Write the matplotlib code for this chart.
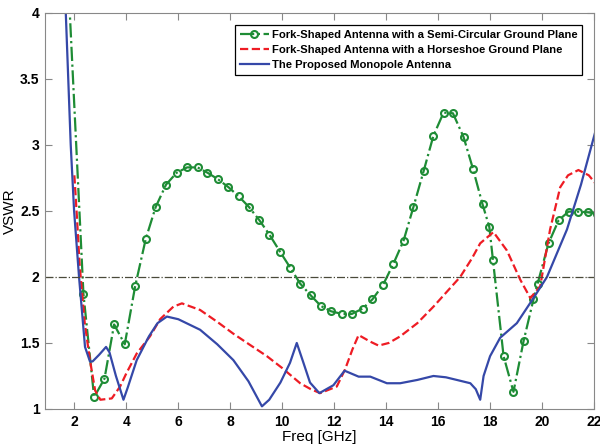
import matplotlib
matplotlib.use('Agg')
import matplotlib.pyplot as plt

# VSWR data (freq in GHz)
freq_semi = [1.80, 2.35, 2.76, 3.16, 3.53, 3.94, 4.34, 4.75, 5.13, 5.53, 5.94, 6.34, 6.74, 7.12,
             7.53, 7.93, 8.33, 8.72, 9.12, 9.51, 9.92, 10.31, 10.69, 11.10, 11.49, 11.88, 12.30,
             12.68, 13.09, 13.47, 13.88, 14.28, 14.67, 15.05, 15.44, 15.82, 16.21, 16.57, 16.98,
             17.34, 17.71, 17.97, 18.11, 18.52, 18.90, 19.29, 19.67, 19.83, 20.25, 20.64, 21.02,
             21.37, 21.75, 22.10]
vswr_semi = [4.10, 1.87, 1.09, 1.23, 1.64, 1.49, 1.93, 2.29, 2.53, 2.70, 2.79, 2.83, 2.83, 2.79,
             2.74, 2.68, 2.61, 2.53, 2.43, 2.32, 2.19, 2.07, 1.95, 1.86, 1.78, 1.74, 1.72,
             1.72, 1.76, 1.83, 1.94, 2.10, 2.275, 2.53, 2.80, 3.07, 3.245, 3.24, 3.06,
             2.82, 2.55, 2.38, 2.13, 1.40, 1.13, 1.515, 1.83, 1.95, 2.255, 2.43, 2.495,
             2.495, 2.49, 2.48]

freq_horse = [2.00, 2.10, 2.20, 2.40, 2.60, 2.80, 3.00, 3.44, 3.76, 4.00, 4.40, 4.91, 5.30, 5.81,
              6.14, 6.84, 7.50, 8.12, 8.80, 9.41, 10.00, 10.69, 11.10, 11.46, 12.10, 12.42, 12.70,
              12.94, 13.39, 13.71, 14.10, 14.54, 15.20, 15.82, 16.30, 16.85, 17.30, 17.62, 18.13,
              18.65, 19.16, 19.55, 19.93, 20.31, 20.70, 21.00, 21.40, 21.80, 22.05]
vswr_horse = [2.77, 2.45, 2.10, 1.65, 1.37, 1.14, 1.07, 1.08, 1.17, 1.27, 1.42, 1.55, 1.68, 1.775,
              1.80, 1.75, 1.66, 1.57, 1.48, 1.40, 1.31, 1.195, 1.15, 1.12, 1.17, 1.30, 1.45,
              1.56, 1.51, 1.48, 1.50, 1.55, 1.65, 1.775, 1.88, 2.00, 2.14, 2.255, 2.34,
              2.20, 1.98, 1.84, 1.93, 2.36, 2.68, 2.77, 2.81, 2.77, 2.71]

freq_prop = [1.60, 1.67, 1.86, 1.99, 2.18, 2.41, 2.60, 2.70, 2.95, 3.22, 3.35, 3.60, 3.89, 4.05,
             4.40, 4.87, 5.20, 5.56, 6.00, 6.84, 7.50, 8.12, 8.70, 9.22, 9.50, 9.93, 10.30, 10.56,
             10.80, 11.07, 11.43, 11.97, 12.40, 12.94, 13.39, 14.03, 14.54, 15.20, 15.82, 16.30,
             16.72, 17.24, 17.45, 17.62, 17.75, 18.00, 18.39, 19.03, 19.67, 20.19, 20.96, 21.50,
             22.05]
vswr_prop = [4.30, 4.00, 3.00, 2.50, 2.00, 1.47, 1.36, 1.36, 1.41, 1.47, 1.43, 1.25, 1.07, 1.16,
             1.37, 1.55, 1.65, 1.70, 1.68, 1.60, 1.49, 1.37, 1.21, 1.02, 1.07, 1.20, 1.35, 1.50,
             1.36, 1.20, 1.12, 1.18, 1.29, 1.245, 1.245, 1.195, 1.195, 1.22, 1.25, 1.24,
             1.22, 1.195, 1.15, 1.07, 1.25, 1.40, 1.54, 1.65, 1.84, 2.00, 2.36, 2.70,
             3.10]

labels = ['Fork-Shaped Antenna with a Semi-Circular Ground Plane',
          'Fork-Shaped Antenna with a Horseshoe Ground Plane',
          'The Proposed Monopole Antenna']
xticks = [2, 4, 6, 8, 10, 12, 14, 16, 18, 20, 22]
yticks = [1, 1.5, 2, 2.5, 3, 3.5, 4]

plt.rcParams['font.family'] = ['Liberation Sans', 'DejaVu Sans']

fig = plt.figure(figsize=(6, 4.46), dpi=100)
ax = fig.add_axes([0.075, 0.083, 0.915, 0.888])

ax.plot(freq_semi, vswr_semi, '-.', color='#1e8c35', lw=1.6, marker='o', ms=5,
        mfc='none', mec='#1e8c35', mew=1.5, label=labels[0])
ax.plot(freq_horse, vswr_horse, '--', color='#ee1c24', lw=1.6, label=labels[1])
ax.plot(freq_prop, vswr_prop, '-', color='#3548a8', lw=1.6, label=labels[2])
ax.axhline(2, color='#4a4a3a', lw=0.9, ls='-.')

ax.set_xlim(0.87, 22)
ax.set_ylim(1, 4)
ax.set_xticks(xticks)
ax.set_yticks(yticks)
ax.set_yticklabels(['1', '1.5', '2', '2.5', '3', '3.5', '4'])
ax.tick_params(direction='in', top=True, right=True, length=5, color='#888888',
               labelsize=10, pad=4)
for lab in ax.get_xticklabels() + ax.get_yticklabels():
    lab.set_fontweight('bold')
for sp in ax.spines.values():
    sp.set_color('#888888')

ax.set_xlabel('Freq [GHz]', fontsize=11, labelpad=1)
ax.set_ylabel('VSWR', fontsize=11, labelpad=2)

leg = ax.legend(loc='upper right', bbox_to_anchor=(0.979, 0.97),
                prop={'weight': 'bold', 'size': 8.1}, fancybox=False, framealpha=1,
                edgecolor='black', handlelength=2.6, borderpad=0.45, labelspacing=0.45,
                handletextpad=0.25, borderaxespad=0)
leg.get_frame().set_linewidth(0.9)

fig.savefig('out.png', dpi=100)
